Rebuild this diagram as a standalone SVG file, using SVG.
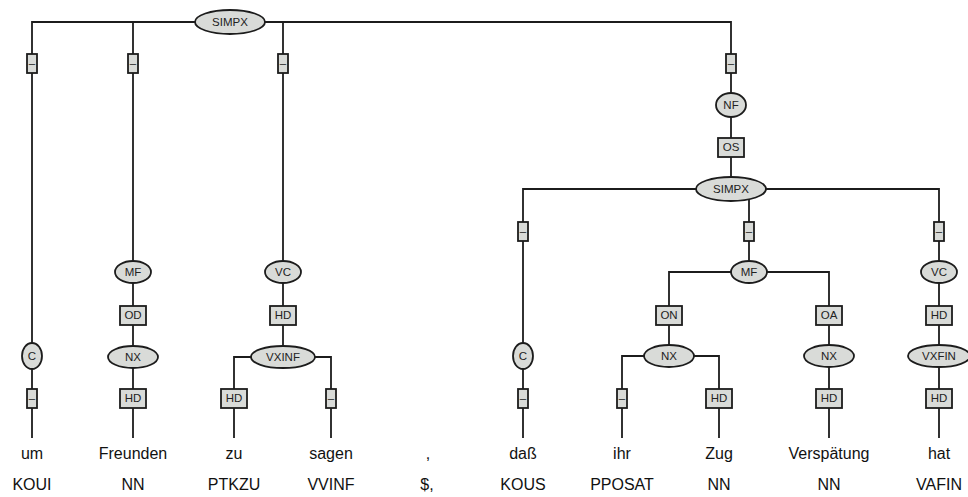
<svg xmlns="http://www.w3.org/2000/svg" width="968" height="497" viewBox="0 0 968 497">
<style>
.e{fill:#d9dbd8;stroke:#1c1c1c;stroke-width:1.8}
.b{fill:#d9dbd8;stroke:#1c1c1c;stroke-width:1.8}
.l{fill:none;stroke:#1c1c1c;stroke-width:1.8}
.t{font-family:"Liberation Sans",Arial,sans-serif;font-size:11.5px;fill:#222;text-anchor:middle}
.w{font-family:"Liberation Sans",Arial,sans-serif;font-size:16px;fill:#111;text-anchor:middle}
</style>
<rect width="968" height="497" fill="#fff"/>
<g id="connectors" class="l">
<path d="M32,438 V22 H731 V189"/>
<path d="M133,22 V438"/>
<path d="M283,22 V357"/>
<path d="M234,438 V357 H331 V438"/>
<path d="M523,438 V189 H939 V438"/>
<path d="M749,189 V272"/>
<path d="M669,356 V272 H829 V438"/>
<path d="M622,438 V356 H719 V438"/>
</g>
<g id="n-simpx1"><ellipse class="e" cx="230" cy="22" rx="35" ry="12"/><text class="t" x="230" y="26">SIMPX</text></g>
<g id="e-um1"><rect class="b" x="27" y="54" width="10" height="19"/><text class="t" x="32" y="67">–</text></g>
<g id="e-mf1"><rect class="b" x="128" y="54" width="10" height="19"/><text class="t" x="133" y="67">–</text></g>
<g id="e-vc1"><rect class="b" x="278" y="54" width="10" height="19"/><text class="t" x="283" y="67">–</text></g>
<g id="e-nf"><rect class="b" x="726" y="54" width="10" height="19"/><text class="t" x="731" y="67">–</text></g>
<g id="n-nf"><ellipse class="e" cx="731" cy="105" rx="15" ry="12"/><text class="t" x="731" y="109">NF</text></g>
<g id="e-os"><rect class="b" x="718" y="138" width="26" height="19"/><text class="t" x="731" y="151">OS</text></g>
<g id="n-simpx2"><ellipse class="e" cx="731" cy="189" rx="35" ry="12"/><text class="t" x="731" y="193">SIMPX</text></g>
<g id="e-c2"><rect class="b" x="518" y="222" width="10" height="19"/><text class="t" x="523" y="235">–</text></g>
<g id="e-mf2"><rect class="b" x="744" y="222" width="10" height="19"/><text class="t" x="749" y="235">–</text></g>
<g id="e-vc2"><rect class="b" x="934" y="222" width="10" height="19"/><text class="t" x="939" y="235">–</text></g>
<g id="n-mf1"><ellipse class="e" cx="133" cy="272" rx="18" ry="11"/><text class="t" x="133" y="276">MF</text></g>
<g id="n-vc1"><ellipse class="e" cx="283" cy="272" rx="18" ry="11"/><text class="t" x="283" y="276">VC</text></g>
<g id="n-mf2"><ellipse class="e" cx="749" cy="272" rx="18" ry="11"/><text class="t" x="749" y="276">MF</text></g>
<g id="n-vc2"><ellipse class="e" cx="939" cy="272" rx="18" ry="11"/><text class="t" x="939" y="276">VC</text></g>
<g id="e-od"><rect class="b" x="120" y="306" width="26" height="19"/><text class="t" x="133" y="319">OD</text></g>
<g id="e-hd-vc1"><rect class="b" x="270" y="306" width="26" height="19"/><text class="t" x="283" y="319">HD</text></g>
<g id="e-on"><rect class="b" x="656" y="306" width="26" height="19"/><text class="t" x="669" y="319">ON</text></g>
<g id="e-oa"><rect class="b" x="816" y="306" width="26" height="19"/><text class="t" x="829" y="319">OA</text></g>
<g id="e-hd-vc2"><rect class="b" x="926" y="306" width="26" height="19"/><text class="t" x="939" y="319">HD</text></g>
<g id="n-c1"><ellipse class="e" cx="32" cy="356" rx="10" ry="13"/><text class="t" x="32" y="360">C</text></g>
<g id="n-nx1"><ellipse class="e" cx="133" cy="357" rx="25" ry="11"/><text class="t" x="133" y="361">NX</text></g>
<g id="n-vxinf"><ellipse class="e" cx="283" cy="357" rx="32" ry="11"/><text class="t" x="283" y="361">VXINF</text></g>
<g id="n-c2"><ellipse class="e" cx="523" cy="356" rx="10" ry="13"/><text class="t" x="523" y="360">C</text></g>
<g id="n-nx2"><ellipse class="e" cx="669" cy="356" rx="25" ry="11"/><text class="t" x="669" y="360">NX</text></g>
<g id="n-nx3"><ellipse class="e" cx="829" cy="356" rx="25" ry="11"/><text class="t" x="829" y="360">NX</text></g>
<g id="n-vxfin"><ellipse class="e" cx="939" cy="356" rx="31" ry="11"/><text class="t" x="939" y="360">VXFIN</text></g>
<g id="e-um2"><rect class="b" x="27" y="389" width="10" height="19"/><text class="t" x="32" y="402">–</text></g>
<g id="e-hd-fr"><rect class="b" x="120" y="389" width="26" height="19"/><text class="t" x="133" y="402">HD</text></g>
<g id="e-hd-zu"><rect class="b" x="221" y="389" width="26" height="19"/><text class="t" x="234" y="402">HD</text></g>
<g id="e-sagen"><rect class="b" x="326" y="389" width="10" height="19"/><text class="t" x="331" y="402">–</text></g>
<g id="e-dass"><rect class="b" x="518" y="389" width="10" height="19"/><text class="t" x="523" y="402">–</text></g>
<g id="e-ihr"><rect class="b" x="617" y="389" width="10" height="19"/><text class="t" x="622" y="402">–</text></g>
<g id="e-hd-zug"><rect class="b" x="706" y="389" width="26" height="19"/><text class="t" x="719" y="402">HD</text></g>
<g id="e-hd-ver"><rect class="b" x="816" y="389" width="26" height="19"/><text class="t" x="829" y="402">HD</text></g>
<g id="e-hd-hat"><rect class="b" x="926" y="389" width="26" height="19"/><text class="t" x="939" y="402">HD</text></g>
<g id="words">
<text class="w" x="32" y="459">um</text>
<text class="w" x="133" y="459">Freunden</text>
<text class="w" x="234" y="459">zu</text>
<text class="w" x="331" y="459">sagen</text>
<text class="w" x="428" y="459">,</text>
<text class="w" x="523" y="459">daß</text>
<text class="w" x="622" y="459">ihr</text>
<text class="w" x="719" y="459">Zug</text>
<text class="w" x="829" y="459">Verspätung</text>
<text class="w" x="939" y="459">hat</text>
</g>
<g id="tags">
<text class="w" x="32" y="490">KOUI</text>
<text class="w" x="133" y="490">NN</text>
<text class="w" x="234" y="490">PTKZU</text>
<text class="w" x="331" y="490">VVINF</text>
<text class="w" x="427" y="490">$,</text>
<text class="w" x="523" y="490">KOUS</text>
<text class="w" x="622" y="490">PPOSAT</text>
<text class="w" x="719" y="490">NN</text>
<text class="w" x="829" y="490">NN</text>
<text class="w" x="939" y="490">VAFIN</text>
</g>
</svg>
